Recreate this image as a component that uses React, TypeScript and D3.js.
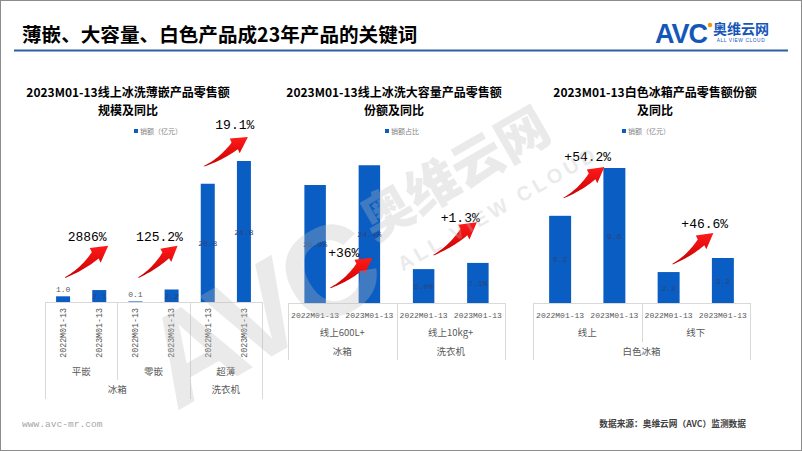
import React from 'react';
import * as d3 from 'd3';

// ---------- data ----------
const periods = ['2022M01-13', '2023M01-13'];

const c1Sub = ['平嵌', '零嵌', '超薄'];
const c1Top = ['冰箱', '洗衣机'];
const c1TopSpan = [2, 1];
const c1Values = [1.0, 2.1, 0.1, 2.2, 20.8, 24.8];
const c1Labels = ['1.0', '2.1', '0.1', '2.2', '20.8', '24.8'];
const c1Growth = ['2886%', '125.2%', '19.1%'];

const c2Sub = ['线上600L+', '线上10kg+'];
const c2Top = ['冰箱', '洗衣机'];
const c2TopSpan = [1, 1];
const c2Values = [20.9, 24.4, 6.0, 7.1];
const c2Labels = ['20.9%', '24.4%', '6.0%', '7.1%'];
const c2Growth = ['+36%', '+1.3%'];

const c3Sub = ['线上', '线下'];
const c3Top = ['白色冰箱'];
const c3TopSpan = [2];
const c3Values = [6.2, 9.6, 2.2, 3.2];
const c3Labels = ['6.2', '9.6', '2.2', '3.2'];
const c3Growth = ['+54.2%', '+46.6%'];

// ---------- style ----------
const BAR = '#0a5dc2';
const AXIS = '#d9d9d9';
const TXT = '#595959';
const CJK = '"Noto Sans CJK SC", "Noto Sans", sans-serif';
const MONO = '"Liberation Mono", "DejaVu Sans Mono", monospace';
const SANS = '"Liberation Sans", Arial, sans-serif';

function arrowPath(x1: number, y1: number, x2: number, y2: number) {
  const L = Math.hypot(x2 - x1, y2 - y1);
  const ux = (x2 - x1) / L, uy = (y2 - y1) / L;
  const nx = -uy, ny = ux;
  const k = L / 53;
  const headLen = 16 * k, headW = 9 * k, sag = 3.5 * k;
  const bodyLen = L - headLen;
  const bx = x1 + ux * bodyLen, by = y1 + uy * bodyLen;
  const cx = x1 + ux * bodyLen * 0.5 + nx * sag, cy = y1 + uy * bodyLen * 0.5 + ny * sag;
  const left: [number, number][] = [];
  const right: [number, number][] = [];
  const N = 16;
  for (let i = 0; i <= N; i++) {
    const t = i / N;
    const px = (1 - t) * (1 - t) * x1 + 2 * (1 - t) * t * cx + t * t * bx;
    const py = (1 - t) * (1 - t) * y1 + 2 * (1 - t) * t * cy + t * t * by;
    let tx = 2 * (1 - t) * (cx - x1) + 2 * t * (bx - cx);
    let ty = 2 * (1 - t) * (cy - y1) + 2 * t * (by - cy);
    const tl = Math.hypot(tx, ty); tx /= tl; ty /= tl;
    const mx = -ty, my = tx;
    const w = (0.4 + 4.2 * Math.pow(t, 1.3)) * k;
    left.push([px - mx * w, py - my * w]);
    right.push([px + mx * w, py + my * w]);
  }
  const pts: [number, number][] = [
    ...left,
    [bx - nx * headW, by - ny * headW],
    [x2, y2],
    [bx + nx * headW, by + ny * headW],
    ...right.reverse(),
  ];
  return 'M' + pts.map(p => p[0].toFixed(2) + ',' + p[1].toFixed(2)).join('L') + 'Z';
}

type Annot = { text: string; tx: number; ty: number; ax1: number; ay1: number; ax2: number; ay2: number };

interface ChartProps {
  title1: string; title2: string; titleX: number;
  legend: string; legendX: number;
  x0: number; x1: number; base: number; yTop: number; vMax: number;
  bandPad: number;
  values: number[]; labels: string[];
  sub: string[]; top: string[]; topSpan: number[];
  rotated: boolean;
  growth: string[];
  annot: { tdx: number; tv: number; a1dx: number; a1v: number; a2dx: number; a2v: number }[];
}

function Chart(p: ChartProps) {
  const n = p.values.length;
  const keys = d3.range(n).map(String);
  const x = d3.scaleBand<string>().domain(keys).range([p.x0, p.x1]).paddingInner(p.bandPad).paddingOuter(p.bandPad / 2);
  const y = d3.scaleLinear().domain([0, p.vMax]).range([p.base, p.yTop]);
  const step = x.step();
  const nSub = p.sub.length;
  const perSub = n / nSub;
  const subW = step * perSub;
  const rowP = p.rotated ? p.base + 30 : p.base + 12;
  const rowS = p.rotated ? p.base + 70 : p.base + 30;
  const rowT = p.rotated ? p.base + 88 : p.base + 49;
  const subLineEnd = p.rotated ? p.base + 78 : p.base + 39;
  const bottom = p.rotated ? p.base + 97 : p.base + 57;

  const topBounds: number[] = [];
  let acc = 0;
  p.topSpan.forEach(s => { acc += s; topBounds.push(acc); });

  const annots: Annot[] = p.annot.map((a, i) => {
    const c0 = (x(String(i * 2)) as number) + x.bandwidth() / 2;
    const c1 = (x(String(i * 2 + 1)) as number) + x.bandwidth() / 2;
    return {
      text: p.growth[i],
      tx: (c0 + c1) / 2 + a.tdx, ty: y(a.tv),
      ax1: c0 + a.a1dx, ay1: y(a.a1v),
      ax2: c1 + a.a2dx, ay2: y(a.a2v),
    };
  });

  return (
    <g>
      <text x={p.titleX} y={97} textAnchor="middle" fontFamily={CJK} fontWeight={700} fontSize={12} fill="#000">{p.title1}</text>
      <text x={p.titleX} y={114.5} textAnchor="middle" fontFamily={CJK} fontWeight={700} fontSize={12} fill="#000">{p.title2}</text>
      <rect x={p.legendX} y={129} width={4} height={4} fill={BAR} />
      <text x={p.legendX + 6} y={134} fontFamily={CJK} fontSize={7} fill="#7f7f7f">{p.legend}</text>

      <line x1={p.x0} x2={p.x1} y1={p.base + 0.5} y2={p.base + 0.5} stroke={AXIS} />
      <line x1={p.x0 + 0.5} x2={p.x0 + 0.5} y1={p.base} y2={bottom} stroke={AXIS} />
      {d3.range(1, nSub).map(i => {
        const bx = Math.round(p.x0 + subW * i) + 0.5;
        const isTop = topBounds.slice(0, -1).includes(i);
        return <line key={'s' + i} x1={bx} x2={bx} y1={p.base} y2={isTop ? bottom : subLineEnd} stroke={AXIS} />;
      })}
      <line x1={p.x1 + 0.5} x2={p.x1 + 0.5} y1={p.base} y2={bottom} stroke={AXIS} />

      {p.values.map((v, i) => {
        const bx = x(String(i)) as number;
        return <rect key={'b' + i} x={bx} y={y(v)} width={x.bandwidth()} height={p.base - y(v)} fill={BAR} />;
      })}
      {p.values.map((v, i) => {
        const cx = (x(String(i)) as number) + x.bandwidth() / 2;
        const small = v < 1.5 && p.rotated;
        return (
          <text key={'l' + i} x={cx} y={small ? y(v) - 4 : (y(v) + p.base) / 2 + 3} textAnchor="middle"
            fontFamily={MONO} fontSize={8} fill={small ? TXT : '#2a4578'}>{p.labels[i]}</text>
        );
      })}

      {p.values.map((_, i) => {
        const cx = (x(String(i)) as number) + x.bandwidth() / 2;
        const t = periods[i % 2];
        return p.rotated ? (
          <text key={'p' + i} transform={`translate(${cx},${p.base + 6}) rotate(-90)`} textAnchor="end" dy="0.35em"
            fontFamily={MONO} fontSize={8.3} fill={TXT}>{t}</text>
        ) : (
          <text key={'p' + i} x={cx} y={rowP} dy="0.35em" textAnchor="middle" fontFamily={MONO} fontSize={8} fill={TXT}>{t}</text>
        );
      })}
      {p.sub.map((s, i) => (
        <text key={'u' + i} x={p.x0 + subW * (i + 0.5)} y={rowS} dy="0.35em" textAnchor="middle" fontFamily={CJK} fontSize={9.5} fill={TXT}>{s}</text>
      ))}
      {p.top.map((s, i) => {
        const startIdx = i === 0 ? 0 : topBounds[i - 1];
        const endIdx = topBounds[i];
        return <text key={'t' + i} x={p.x0 + subW * (startIdx + endIdx) / 2} y={rowT} dy="0.35em" textAnchor="middle" fontFamily={CJK} fontSize={9.5} fill={TXT}>{s}</text>;
      })}

      {annots.map((a, i) => (
        <g key={'a' + i}>
          <path d={arrowPath(a.ax1, a.ay1, a.ax2, a.ay2)} fill="url(#arrowGrad)" />
          <text x={a.tx} y={a.ty} dy="0.35em" textAnchor="middle" fontFamily={MONO} fontSize={13} fill="#000">{a.text}</text>
        </g>
      ))}
    </g>
  );
}

export default function App() {
  return (
    <svg width={802} height={451} viewBox="0 0 802 451" style={{ position: 'absolute', left: 0, top: 0, background: '#fff' }}>
      <defs>
        <linearGradient id="arrowGrad" x1="0" y1="0" x2="0" y2="1">
          <stop offset="0" stopColor="#ff1a1a" />
          <stop offset="1" stopColor="#c80000" />
        </linearGradient>
      </defs>
      <rect x={0} y={0} width={802} height={451} fill="#fff" />
      <rect x={0.5} y={0.5} width={801} height={450} fill="none" stroke="#8c8c8c" />

      {/* header */}
      <text x={22} y={42} fontFamily={CJK} fontWeight={700} fontSize={19.6} fill="#000">薄嵌、大容量、白色产品成23年产品的关键词</text>
      <line x1={14} x2={788} y1={50.5} y2={50.5} stroke="#2f5f9e" strokeWidth={2} />
      <text x={655} y={43} fontFamily={SANS} fontWeight={700} fontSize={27} fill="#1457b8" letterSpacing={-1}>AVC</text>
      <circle cx={710} cy={25} r={2.2} fill="#f39800" />
      <text x={713} y={34} fontFamily={CJK} fontWeight={700} fontSize={14} fill="#1457b8">奥维云网</text>
      <text x={741} y={42} textAnchor="middle" fontFamily={SANS} fontSize={4.8} fill="#1457b8" letterSpacing={0.6}>ALL VIEW CLOUD</text>

      <Chart title1="2023M01-13线上冰洗薄嵌产品零售额" title2="规模及同比" titleX={128}
        legend="销额（亿元）" legendX={134}
        x0={45} x1={262} base={302} yTop={161} vMax={24.8} bandPad={0.613}
        values={c1Values} labels={c1Labels} sub={c1Sub} top={c1Top} topSpan={c1TopSpan} rotated={true}
        growth={c1Growth}
        annot={[
          { tdx: 6, tv: 11.6, a1dx: 2, a1v: 4.3, a2dx: 9, a2v: 9.9 },
          { tdx: 6, tv: 11.6, a1dx: 3, a1v: 4.3, a2dx: 6, a2v: 9.9 },
          { tdx: 9, tv: 31.2, a1dx: -3.5, a1v: 23.9, a2dx: 4, a2v: 29.0 },
        ]} />

      <Chart title1="2023M01-13线上冰洗大容量产品零售额" title2="份额及同比" titleX={394}
        legend="销额占比" legendX={385}
        x0={288} x1={505} base={303} yTop={185} vMax={20.9} bandPad={0.604}
        values={c2Values} labels={c2Labels} sub={c2Sub} top={c2Top} topSpan={c2TopSpan} rotated={false}
        growth={c2Growth}
        annot={[
          { tdx: 1.5, tv: 9.0, a1dx: 15, a1v: 2.66, a2dx: 3, a2v: 8.0 },
          { tdx: 9.5, tv: 15.1, a1dx: 10, a1v: 8.5, a2dx: -1, a2v: 14.3 },
        ]} />

      <Chart title1="2023M01-13白色冰箱产品零售额份额" title2="及同比" titleX={655}
        legend="销额（亿元）" legendX={622}
        x0={533} x1={750} base={303} yTop={168} vMax={9.6} bandPad={0.595}
        values={c3Values} labels={c3Labels} sub={c3Sub} top={c3Top} topSpan={c3TopSpan} rotated={false}
        growth={c3Growth}
        annot={[
          { tdx: 0.5, tv: 10.45, a1dx: 3.5, a1v: 7.47, a2dx: -10, a2v: 9.67 },
          { tdx: 9, tv: 5.69, a1dx: 4, a1v: 2.77, a2dx: -9.5, a2v: 4.98 },
        ]} />

      {/* watermark */}
      <g transform="translate(372,250) rotate(-30)" opacity={0.3} fill="#bdbdbd" pointerEvents="none">
        <text x={-8} y={42} textAnchor="end" fontFamily={SANS} fontWeight={700} fontSize={128} letterSpacing={-6}>AVC</text>
        <text x={6} y={-6} fontFamily={CJK} fontWeight={900} fontSize={52}>奥维云网</text>
        <text x={16} y={34} fontFamily={SANS} fontWeight={700} fontSize={20} letterSpacing={4}>ALL VIEW CLOUD</text>
      </g>

      {/* footer */}
      <text x={22} y={427} fontFamily={MONO} fontSize={9.6} fill="#a6a6a6">www.avc-mr.com</text>
      <text x={746} y={427} textAnchor="end" fontFamily={CJK} fontWeight={700} fontSize={8.7} fill="#404040">数据来源：奥维云网（AVC）监测数据</text>
    </svg>
  );
}
